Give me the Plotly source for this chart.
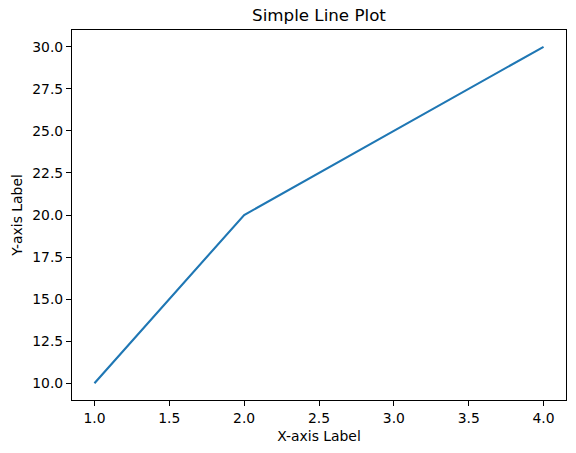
import plotly.graph_objects as go

# data
x_values = [1, 2, 3, 4]
y_values = [10, 20, 25, 30]
x_ticks = [1.0, 1.5, 2.0, 2.5, 3.0, 3.5, 4.0]
y_ticks = [10.0, 12.5, 15.0, 17.5, 20.0, 22.5, 25.0, 27.5, 30.0]

fig = go.Figure()
fig.add_trace(go.Scatter(x = x_values, y = y_values, mode = "lines",
                         line = {"color": "#1f77b4", "width": 2.1}))

axis_style = dict(showline = True, linecolor = "black", linewidth = 1.1, mirror = True,
                  ticks = "outside", ticklen = 5, tickwidth = 1.1, tickcolor = "black",
                  showgrid = False, zeroline = False, tickformat = ".1f",
                  tickfont = {"size": 13.9, "color": "black"})

fig.update_xaxes(range = [0.85, 4.15], tickvals = x_ticks,
                 title = {"text": "X-axis Label", "font": {"size": 13.9, "color": "black"}, "standoff": 6},
                 **axis_style)
fig.update_yaxes(range = [9, 31], tickvals = y_ticks,
                 title = {"text": "Y-axis Label", "font": {"size": 13.9, "color": "black"}, "standoff": 6},
                 **axis_style)

fig.update_layout(width = 576, height = 453,
                  margin = {"l": 72, "r": 10, "t": 30, "b": 53},
                  paper_bgcolor = "white", plot_bgcolor = "white",
                  font = {"family": "DejaVu Sans", "color": "black"},
                  showlegend = False,
                  title = {"text": "Simple Line Plot", "x": 0.5, "xref": "paper",
                           "y": 1, "yref": "paper", "yanchor": "bottom",
                           "pad": {"b": 9}, "font": {"size": 16.7, "color": "black"}})

# page body has a default 8px margin, drop it so the figure sits at 0,0
fig.write_html("out.html", config = {"displayModeBar": False},
               post_script = "document.body.style.margin = '0';")
